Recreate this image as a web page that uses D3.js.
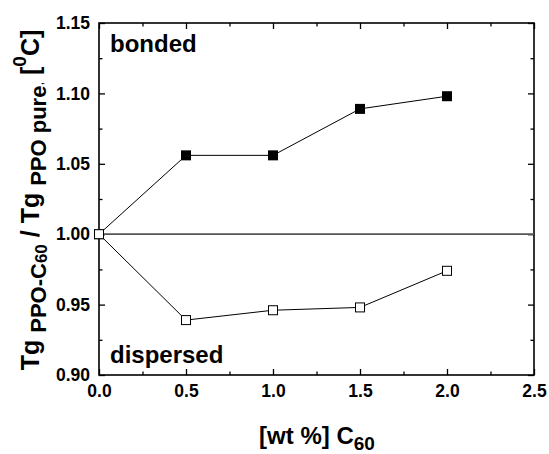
<!DOCTYPE html>
<html>
<head>
<meta charset="utf-8">
<script src="https://cdn.jsdelivr.net/npm/d3@7"></script>
<style>
  html, body { margin: 0; padding: 0; background: #fff; }
  svg { display: block; font-family: Arial, "Liberation Sans", Helvetica, sans-serif; font-weight: bold; }
</style>
</head>
<body>
<svg id="chart" width="549" height="454"></svg>
<script>
// C60 content (wt %) and normalised glass transition temperatures
const wtPercent = [0, 0.5, 1.0, 1.5, 2.0];
const bonded    = [1.000, 1.056, 1.056, 1.089, 1.098];
const dispersed = [1.000, 0.939, 0.946, 0.948, 0.974];
const baseline  = [{x: 0, y: 1.0}, {x: 2.5, y: 1.0}];

const xTicks = [0, 0.5, 1.0, 1.5, 2.0, 2.5];
const yTicks = [0.90, 0.95, 1.00, 1.05, 1.10, 1.15];
const xMinor = [0.25, 0.75, 1.25, 1.75, 2.25];
const yMinor = [0.925, 0.975, 1.025, 1.075, 1.125];

const svg = d3.select("#chart");
const plotL = 99, plotR = 534, plotT = 23, plotB = 375;

const x = d3.scaleLinear().domain([0, 2.5]).range([plotL, plotR]);
const y = d3.scaleLinear().domain([0.90, 1.15]).range([plotB, plotT]);

// frame
svg.append("rect")
  .attr("x", plotL).attr("y", plotT)
  .attr("width", plotR - plotL).attr("height", plotB - plotT)
  .attr("fill", "none").attr("stroke", "#000").attr("stroke-width", 1.6);

function styleLabels(g) {
  g.selectAll("text").attr("font-size", 17.5).attr("font-weight", "bold")
    .attr("fill", "#000").attr("font-family", "Arial, 'Liberation Sans', sans-serif");
}

// inward ticks on all four sides
function tickAxes() {
  const gB = svg.append("g").attr("transform", `translate(0,${plotB})`)
    .call(d3.axisBottom(x).tickValues(xTicks).tickFormat(d3.format(".1f")).tickSizeInner(-6).tickSizeOuter(0).tickPadding(10));
  styleLabels(gB);
  const gL = svg.append("g").attr("transform", `translate(${plotL},0)`)
    .call(d3.axisLeft(y).tickValues(yTicks).tickFormat(d3.format(".2f")).tickSizeInner(-6).tickSizeOuter(0).tickPadding(9));
  styleLabels(gL);
  svg.append("g").attr("transform", `translate(0,${plotT})`)
    .call(d3.axisTop(x).tickValues(xTicks).tickSizeInner(-6).tickSizeOuter(0).tickFormat(""));
  svg.append("g").attr("transform", `translate(${plotR},0)`)
    .call(d3.axisRight(y).tickValues(yTicks).tickSizeInner(-6).tickSizeOuter(0).tickFormat(""));
  // minor ticks
  svg.append("g").attr("transform", `translate(0,${plotB})`)
    .call(d3.axisBottom(x).tickValues(xMinor).tickSizeInner(-3.5).tickSizeOuter(0).tickFormat(""));
  svg.append("g").attr("transform", `translate(0,${plotT})`)
    .call(d3.axisTop(x).tickValues(xMinor).tickSizeInner(-3.5).tickSizeOuter(0).tickFormat(""));
  svg.append("g").attr("transform", `translate(${plotL},0)`)
    .call(d3.axisLeft(y).tickValues(yMinor).tickSizeInner(-3.5).tickSizeOuter(0).tickFormat(""));
  svg.append("g").attr("transform", `translate(${plotR},0)`)
    .call(d3.axisRight(y).tickValues(yMinor).tickSizeInner(-3.5).tickSizeOuter(0).tickFormat(""));
}
tickAxes();
svg.selectAll(".domain").remove();
svg.selectAll(".tick line").attr("stroke", "#000").attr("stroke-width", 1.3);

// reference line at unity
svg.append("path")
  .datum(baseline)
  .attr("d", d3.line().x(d => x(d.x)).y(d => y(d.y)))
  .attr("stroke", "#555").attr("stroke-width", 1.8).attr("fill", "none");

const line = d3.line().x((d, i) => x(wtPercent[i])).y(d => y(d));

svg.append("path").datum(bonded).attr("d", line)
  .attr("stroke", "#000").attr("stroke-width", 1).attr("fill", "none");
svg.append("path").datum(dispersed).attr("d", line)
  .attr("stroke", "#000").attr("stroke-width", 1).attr("fill", "none");

const sq = 10;
svg.selectAll(".b").data(bonded).enter().append("rect")
  .attr("x", (d, i) => x(wtPercent[i]) - sq / 2).attr("y", d => y(d) - sq / 2)
  .attr("width", sq).attr("height", sq).attr("fill", "#000");
svg.selectAll(".d").data(dispersed).enter().append("rect")
  .attr("x", (d, i) => x(wtPercent[i]) - (sq - 1) / 2).attr("y", d => y(d) - (sq - 1) / 2)
  .attr("width", sq - 1).attr("height", sq - 1)
  .attr("fill", "#fff").attr("stroke", "#000").attr("stroke-width", 1);

// annotations
svg.append("text").attr("x", 110).attr("y", 52).attr("font-size", 24).text("bonded");
svg.append("text").attr("x", 110).attr("y", 363).attr("font-size", 24).text("dispersed");

// x axis title
const xt = svg.append("text").attr("x", 317).attr("y", 444).attr("text-anchor", "middle").attr("font-size", 24);
xt.append("tspan").text("[wt %] C");
xt.append("tspan").attr("font-size", 19).attr("dy", 6).text("60");

// y axis title
const yt = svg.append("text").attr("transform", "translate(39,200) rotate(-90)")
  .attr("text-anchor", "middle").attr("font-size", 25);
yt.append("tspan").text("Tg ");
yt.append("tspan").attr("font-size", 22).attr("dy", 7).text("PPO-C");
yt.append("tspan").attr("font-size", 17).attr("dy", 1).text("60");
yt.append("tspan").attr("dy", -8).text(" / Tg ");
yt.append("tspan").attr("font-size", 22).attr("dy", 7).text("PPO pure");
yt.append("tspan").attr("font-size", 13).attr("font-weight", "normal").attr("dy", -3).text(",");
yt.append("tspan").attr("dy", -4).text(" [");
yt.append("tspan").attr("font-size", 19).attr("dy", -13).text("0");
yt.append("tspan").attr("dy", 13).text("C]");
</script>
</body>
</html>
